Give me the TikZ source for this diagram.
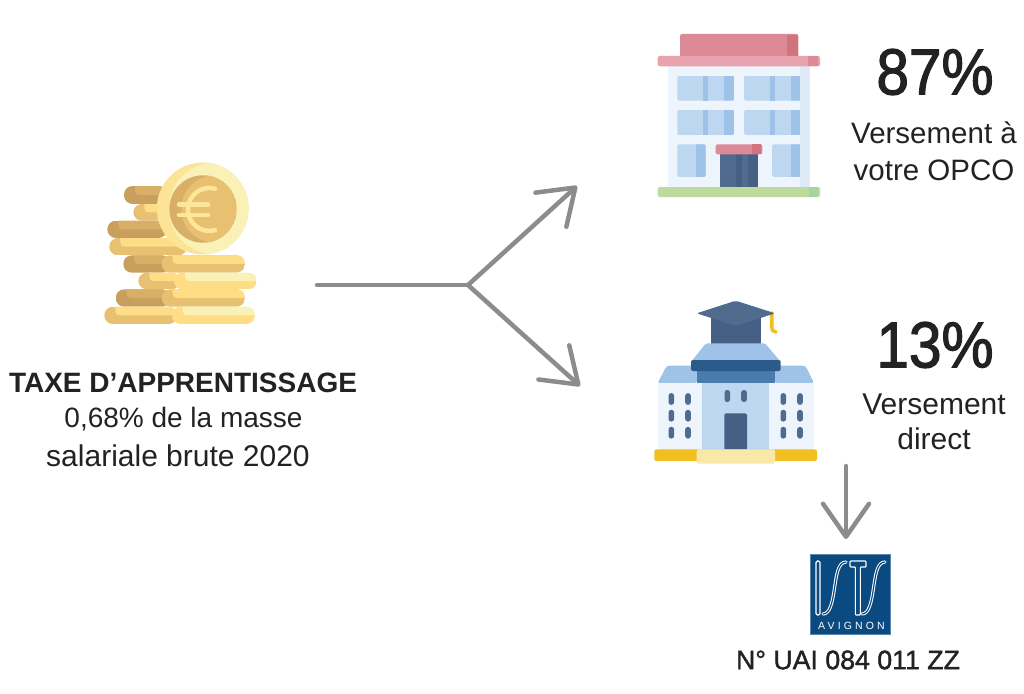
\documentclass[tikz,border=0pt]{standalone}
\usepackage{fontspec}
\setmainfont{Liberation Sans}
\newfontfamily\medfont[FakeBold=1.8,FakeStretch=0.9]{Liberation Sans}
\newfontfamily\uaifont[FakeBold=1.5]{Liberation Sans}
\usetikzlibrary{arrows.meta}

\definecolor{inkgrey}{HTML}{222222}
\definecolor{arrowgrey}{HTML}{8C8C8C}
\definecolor{coindark}{HTML}{C99F5E}
\definecolor{coinshade}{HTML}{D9AF68}
\definecolor{coinmid}{HTML}{E8C071}
\definecolor{coinlight}{HTML}{FFDD87}
\definecolor{coinpale}{HTML}{F9F1B6}
\definecolor{roofdark}{HTML}{D0737F}
\definecolor{roofmid}{HTML}{DC8A96}
\definecolor{rooflight}{HTML}{E8A3AE}
\definecolor{wall}{HTML}{EDF4FC}
\definecolor{wallshade}{HTML}{DFEAF9}
\definecolor{glass}{HTML}{BDD7F0}
\definecolor{glassdark}{HTML}{9FC2E8}
\definecolor{slate}{HTML}{4F6C8F}
\definecolor{slatedark}{HTML}{465F85}
\definecolor{bandblue}{HTML}{2C5A8A}
\definecolor{friezeblue}{HTML}{4A7BAD}
\definecolor{gold}{HTML}{F0C020}
\definecolor{sand}{HTML}{F9E8A8}
\definecolor{lawn}{HTML}{BEDB9E}
\definecolor{lawndark}{HTML}{A8D3A0}
\definecolor{istsblue}{HTML}{0B4A80}
\definecolor{istsedge}{HTML}{5C86AE}

% x1, x2, y1, y2, base colour, top colour
\newcommand{\coinbar}[6]{
\begin{scope}
\clip[rounded corners=8.5pt] (#1,#3) rectangle (#2,#4);
\fill[#5] (#1,#3) rectangle (#2,#4);
\fill[#6,rounded corners=4pt] ({#1+11},{#3-6}) rectangle ({#2+10},{(#3+#4)/2});
\end{scope}
}
% x1, x2, y1, y2: a window with its shaded right side
\newcommand{\pane}[4]{
\begin{scope}
\clip[rounded corners=1.5pt] (#1,#3) rectangle (#2,#4);
\fill[glass] (#1,#3) rectangle (#2,#4);
\fill[glassdark] ({#2-10},#3) rectangle (#2,#4);
\end{scope}
}

\begin{document}
\begin{tikzpicture}[x=1pt,y=-1pt]
\tikzstyle{label} = [inner sep=0pt, text=inkgrey, align=center]
\tikzstyle{line} = [draw=arrowgrey, line width=4.5pt, line cap=round];
\tikzstyle{branch} = [line, -{Straight Barb[length=33pt,width=46pt,round]}];
\tikzstyle{slab} = [rounded corners=2pt];
\tikzstyle{pill} = [fill=slate, rounded corners=2.5pt];
\useasboundingbox (0,0) rectangle (1024,693);

% coins, back row first
\coinbar{124}{167}{186}{204}{coindark}{coinshade}
\coinbar{133.3}{163}{204}{220.7}{coinmid}{coinlight}
\coinbar{107.3}{167}{220.7}{238}{coindark}{coinshade}
\coinbar{109.3}{187}{238}{255.3}{coinmid}{coinlight}
\coinbar{123.3}{170}{255.3}{272.7}{coindark}{coinshade}
\coinbar{161.7}{245}{255.3}{272.7}{coinmid}{coinlight}
\coinbar{138.3}{180}{272.7}{289.3}{coinmid}{coinlight}
\coinbar{174}{256.7}{272.7}{289.3}{coinlight}{coinpale}
\coinbar{115.7}{170}{289.3}{306.7}{coindark}{coinshade}
\coinbar{161.7}{245}{289.3}{306.7}{coinmid}{coinlight}
\coinbar{104.3}{177}{306.7}{324}{coinmid}{coinlight}
\coinbar{171.7}{255}{306.7}{324}{coinlight}{coinpale}
% big coin
\begin{scope}
\clip (202.8,208.5) circle (46);
\fill[coinlight!70!coinpale] (202.8,208.5) circle (46);
\fill[coinpale] (214.8,208.5) circle (46);
\end{scope}
\begin{scope}
\clip (203,209) circle (33.7);
\fill[coinshade] (203,209) circle (33.7);
\fill[coinmid] (215,209) circle (33.7);
\end{scope}
\draw[coinlight!60!coinpale, line width=4.5pt, line cap=round] (215,230.2) arc (75:285:21.5);
\draw[coinlight!60!coinpale, line width=4.5pt, line cap=round] (179,204.5) -- (208,204.5) (179,215) -- (208,215);

% building
\fill[roofmid, rounded corners=2pt] (680,34) rectangle (798.3,58);
\fill[roofdark] (786.7,34.7) rectangle (798.3,57);
\fill[wall] (667.7,66) rectangle (810,188);
\fill[wallshade] (800,66) rectangle (810,188);
\fill[rooflight, slab] (657.7,56) rectangle (820,66.3);
\fill[roofmid] (808.3,56) rectangle (818,66.3);
\foreach \y in {75.7,110} {
\pane{677.3}{734}{\y}{\y+25}
\pane{744}{800.7}{\y}{\y+25}
\fill[glassdark] (703.3,\y) rectangle (708.3,\y+25);
\fill[glassdark] (770,\y) rectangle (775,\y+25);
}
\pane{677.3}{705.7}{144.3}{177}
\pane{772}{800.7}{144.3}{177}
\fill[slate] (720.3,153) rectangle (757.7,187.5);
\fill[slatedark] (736,153) rectangle (742.3,187.5);
\fill[slatedark] (747.7,153) rectangle (757.7,187.5);
\fill[roofmid, slab] (715.7,144.3) rectangle (762.3,154.3);
\fill[roofdark] (752.3,144.3) rectangle (761,154.3);
\fill[lawn, slab] (657.7,187) rectangle (820,197);
\fill[lawndark] (809,187) rectangle (818,197);

% school
\fill[slatedark] (710.7,318) -- (761,318) -- (761,344) -- (710.7,344) -- cycle;
\draw[gold, line width=3.6pt, line cap=round] (771.7,313) -- (771.7,327) .. controls (771.7,330) and (773,332) .. (776,332);
\fill[slate, rounded corners=2pt] (696.7,313.3) -- (735.7,300.7) -- (775,313.3) -- (735.7,326) -- cycle;
\fill[glassdark, rounded corners=1.5pt] (706,343.3) -- (765,343.3) -- (780,361) -- (691.7,361) -- cycle;
\fill[glassdark, rounded corners=2pt] (657.7,383) -- (666,367) -- (668,365.7) -- (697,365.7) -- (697,383) -- cycle;
\fill[glassdark, rounded corners=2pt] (814,383) -- (806,367) -- (804,365.7) -- (775,365.7) -- (775,383) -- cycle;
\fill[friezeblue] (696.7,370) rectangle (775,382.7);
\fill[bandblue, slab] (691,360) rectangle (780.7,371);
\fill[wall] (657.7,382.7) rectangle (814,450);
\fill[glass] (702.3,382.7) rectangle (769,450);
\fill[slatedark, rounded corners=1.5pt] (724.3,450) -- (724.3,413.3) -- (747,413.3) -- (747,450) -- cycle;
\foreach \x in {671.3,688,783.3,800} {
\foreach \y in {399,415.7,432.7} {
\fill[pill] (\x-2.8,\y-5.8) rectangle (\x+2.8,\y+5.8);
}
}
\foreach \x in {727.3,744} {
\fill[pill] (\x-2.8,390) rectangle (\x+2.8,402);
}
\fill[gold, slab] (654.3,449.3) rectangle (817,461);
\fill[sand, slab] (696.7,449.3) rectangle (775,463.7);

% logo
\node [draw=istsedge, line width=1pt, fill=istsblue, minimum size=80pt, inner sep=0pt] (ists) at (850,594.5) {};
\draw[white, line width=1.1pt, rounded corners=1.5pt] (816,561) rectangle (820,615);
\draw[white, line width=1.1pt, rounded corners=.8pt] (850,561) -- (866,561) -- (866,567) -- (860.3,567) -- (860.3,615) -- (855.3,615) -- (855.3,567) -- (850,567) -- cycle;
\foreach \dx in {0,39} {
\draw[white, line width=1pt, double=istsblue, double distance=1.2pt, line cap=round] (846+\dx,562) .. controls (838+\dx,562) and (836.5+\dx,575) .. (834.5+\dx,588) .. controls (832.5+\dx,602) and (830+\dx,614) .. (823+\dx,614);
}
\node [inner sep=0pt, text=white, font=\fontsize{10.5}{10.5}\selectfont\addfontfeatures{LetterSpace=30}] (avignon) at (851.5,626) {AVIGNON};

% texts
\node [label, font=\fontsize{28}{28}\selectfont\bfseries] (tax) at (183,383) {TAXE D’APPRENTISSAGE};
\node [label, font=\fontsize{28}{28}\selectfont] (taxrate) at (183.5,419) {0,68\% de la masse};
\node [label, font=\fontsize{30}{30}\selectfont] (taxbase) at (178,456) {salariale brute 2020};
\node [label, font=\fontsize{65}{65}\selectfont\medfont] (opcorate) at (935,72) {87\%};
\node [label, font=\fontsize{29.5}{37}\selectfont] (opco) at (934,151) {Versement à\\votre OPCO};
\node [label, font=\fontsize{65}{65}\selectfont\medfont] (directrate) at (935,345) {13\%};
\node [label, font=\fontsize{30}{35}\selectfont] (direct) at (934,422) {Versement\\direct};
\node [label, font=\fontsize{26.7}{27}\selectfont\uaifont] (uai) at (848,660) {N° UAI 084 011 ZZ};

% connectors
\coordinate (start) at (317,285);
\coordinate (fork) at (468,285);
\coordinate (upper) at (577,186);
\coordinate (lower) at (580,386);
\coordinate (below) at (846,466);
\coordinate (above) at (846,539);
\path [line] (start) -- (fork);
\path [branch] (fork) -- (upper);
\path [branch] (fork) -- (lower);
\path [branch] (below) -- (above);

\end{tikzpicture}
\end{document}
